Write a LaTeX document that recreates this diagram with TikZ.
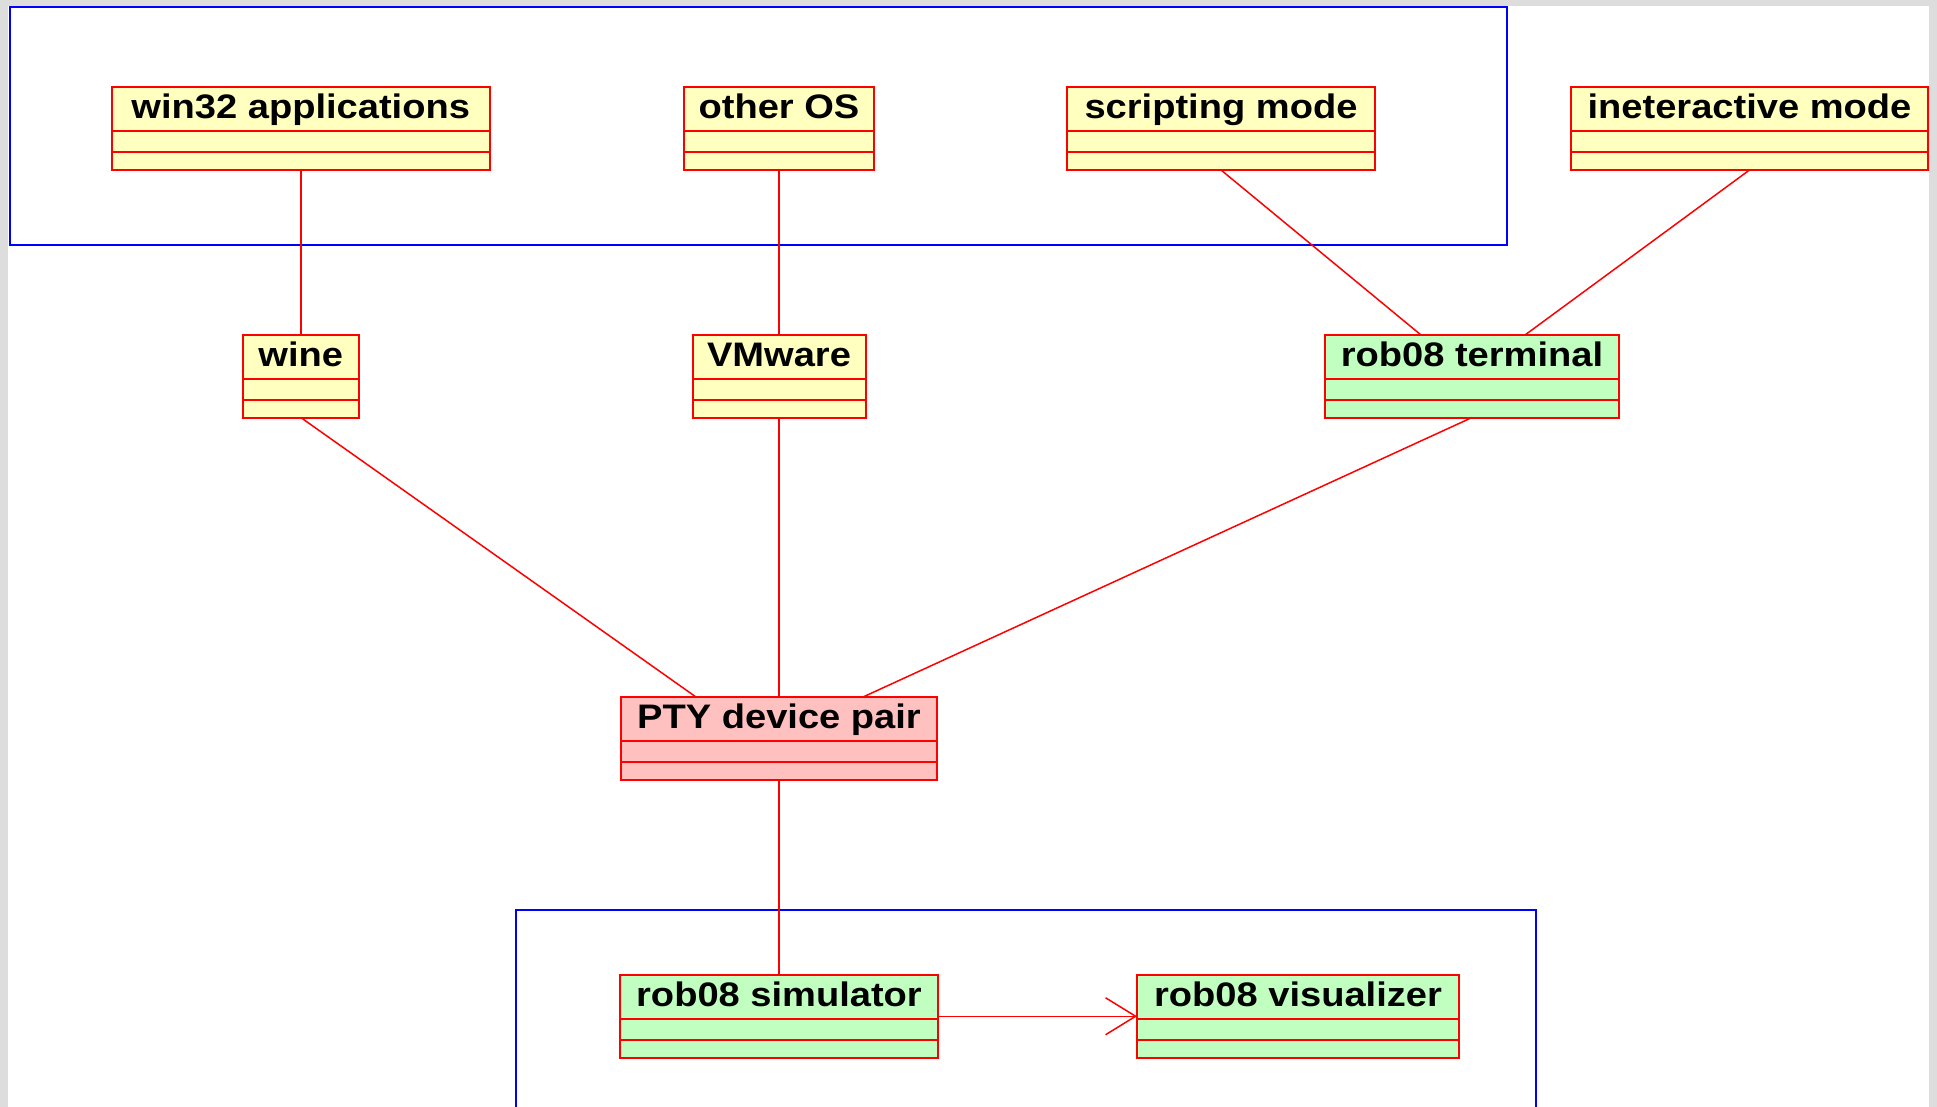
\documentclass[tikz,border=0pt]{standalone}
\usepackage{fontspec}
\newfontfamily\boxfont[FakeStretch=1.12]{Liberation Sans}
\usetikzlibrary{arrows.meta}
\definecolor{bggray}{HTML}{DDDDDD}
\definecolor{umlyellow}{HTML}{FFFFC0}
\definecolor{umlgreen}{HTML}{C0FFC0}
\definecolor{umlpink}{HTML}{FFC0C0}
\definecolor{umlred}{HTML}{FF0000}
\definecolor{umlblue}{HTML}{0000FF}
\tikzset{
  umlbox/.style={draw=umlred, line width=2pt, rectangle, inner sep=0pt, outer sep=0pt, minimum height=82.5pt},
  boxtext/.style={inner sep=0pt, outer sep=0pt, font=\boxfont\bfseries\fontsize{34}{38}\selectfont, text=black},
  divider/.style={draw=umlred, line width=2pt},
  conn/.style={draw=umlred, line width=1.5pt},
  frame/.style={draw=umlblue, line width=2pt},
}
\newcommand\umlclass[6]{%
  \node[umlbox, fill=#5, minimum width={#4-#2}, anchor=north west] (#1) at (#2,#3) {};
  \draw[divider] ([yshift=-43.5pt]#1.north west) -- ([yshift=-43.5pt]#1.north east);
  \draw[divider] ([yshift=-64.5pt]#1.north west) -- ([yshift=-64.5pt]#1.north east);
  \node[boxtext, anchor=base] (#1-t) at ([yshift=-31.5pt]#1.north) {#6};
}
\begin{document}
\begin{tikzpicture}[x=1pt,y=-1pt]
\useasboundingbox (0,0) rectangle (1937,1107);
\fill[bggray] (0,0) rectangle (1937,1107);
\fill[white] (8,6) rectangle (1929,1110);
% package frames
\draw[frame] (9.5,7.5) rectangle (1507,245);
\draw[frame] (515.5,1112) -- (515.5,910) -- (1536,910) -- (1536,1112);
% classes
\umlclass{win}{112}{87.5}{489.5}{umlyellow}{win32 applications}
\umlclass{other}{684}{87.5}{874}{umlyellow}{other OS}
\umlclass{script}{1067}{87.5}{1375}{umlyellow}{scripting mode}
\umlclass{inter}{1571}{87.5}{1928}{umlyellow}{ineteractive mode}
\umlclass{wine}{242.75}{335}{358.75}{umlyellow}{wine}
\umlclass{vmware}{692.5}{335}{865.5}{umlyellow}{VMware}
\umlclass{term}{1325}{335}{1619}{umlgreen}{rob08 terminal}
\umlclass{pty}{621}{697}{937}{umlpink}{PTY device pair}
\umlclass{sim}{620}{975}{938}{umlgreen}{rob08 simulator}
\umlclass{vis}{1137}{975}{1459}{umlgreen}{rob08 visualizer}
% connectors
\draw[conn] (win.south) -- (wine.north);
\draw[conn] (other.south) -- (vmware.north);
\draw[conn] (script.south) -- ([xshift=-51pt]term.north);
\draw[conn] (inter.south) -- ([xshift=53pt]term.north);
\draw[conn] (wine.south) -- ([xshift=-83pt]pty.north);
\draw[conn] (vmware.south) -- (pty.north);
\draw[conn] (term.south) -- ([xshift=84pt]pty.north);
\draw[conn] (pty.south) -- (sim.north);
\draw[conn, -{Straight Barb[length=30pt, width=37pt, line width=1.5pt]}] (sim.east) -- (vis.west);
\end{tikzpicture}
\end{document}
